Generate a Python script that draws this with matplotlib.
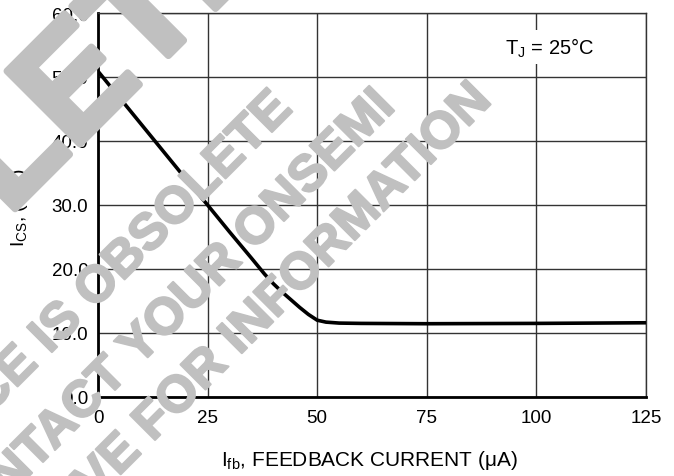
import numpy as np
import matplotlib
matplotlib.use("Agg")
import matplotlib.pyplot as plt
import matplotlib.patheffects as pe

plt.rcParams['font.family'] = ['Liberation Sans', 'DejaVu Sans']
plt.rcParams['mathtext.fontset'] = 'custom'
plt.rcParams['mathtext.rm'] = 'Liberation Sans'
plt.rcParams['mathtext.it'] = 'Liberation Sans:italic'

# curve (feedback current in uA, sense current in mA)
i_fb = [0, 5, 10, 15, 20, 25, 30, 35, 38, 40, 42, 44, 46, 48, 50, 52, 55, 60, 75, 100, 125]
i_cs = [50.9, 46.7, 42.5, 38.3, 34.1, 30.0, 25.8, 21.7, 19.2, 17.7, 16.4, 15.2, 14.0, 12.9, 12.0, 11.7, 11.55, 11.5, 11.45, 11.5, 11.6]

x_ticks = [0, 25, 50, 75, 100, 125]
y_ticks = [0, 10, 20, 30, 40, 50, 60]
y_tick_labels = ["0.0", "10.0", "20.0", "30.0", "40.0", "50.0", "60.0"]

watermark_big = "OBSOLETE"
watermark_lines = ["DEVICE IS OBSOLETE", "CONTACT YOUR ONSEMI", "REPRESENTATIVE FOR INFORMATION"]

W, H = 674, 477
fig = plt.figure(figsize=(W / 100, H / 100), dpi=100)
ax = fig.add_axes([98 / W, 1 - 398 / H, (646 - 98) / W, (398 - 14) / H])

ax.plot(i_fb, i_cs, color='black', lw=2.6, solid_capstyle='butt', zorder=3)

ax.set_xlim(0, 125)
ax.set_ylim(0, 60)
ax.set_xticks(x_ticks)
ax.set_yticks(y_ticks)
ax.set_yticklabels(y_tick_labels)
ax.tick_params(length=0, labelsize=13.5, pad=7)
ax.tick_params(axis='x', pad=9)
ax.grid(True, color='#333333', lw=1.0)
ax.set_axisbelow(True)

for side in ['top', 'right']:
    ax.spines[side].set_linewidth(1.0)
    ax.spines[side].set_color('#333333')
for side in ['left', 'bottom']:
    ax.spines[side].set_linewidth(2.0)

ax.text(92.8, 54.7, r'T$_\mathrm{J}$ = 25°C', fontsize=14.5, va='center', ha='left',
        bbox=dict(facecolor='white', edgecolor='none', pad=4), zorder=4)

fig.text(370 / W, 1 - 466 / H, r'I$_\mathrm{fb}$, FEEDBACK CURRENT (μA)', fontsize=15,
         ha='center', va='baseline')
fig.text(20 / W, 1 - 208 / H, r'I$_\mathrm{CS}$, (mA)', fontsize=14, rotation=90,
         ha='center', va='center')

# watermark
wm = '#c0c0c0'
fig.text(279 / W, 1 + 54 / H, watermark_big, fontsize=108, fontweight='bold', color=wm,
         rotation=45, rotation_mode='anchor', ha='right', va='baseline', zorder=10,
         path_effects=[pe.withStroke(linewidth=5, foreground=wm)])
ends = [(293, 112), (396, 110), (492, 104)]
for txt, (ex, ey) in zip(watermark_lines, ends):
    fig.text(ex / W, 1 - ey / H, txt, fontsize=37, fontweight='bold', color=wm,
             rotation=45, rotation_mode='anchor', ha='right', va='baseline', zorder=10,
             path_effects=[pe.withStroke(linewidth=1.5, foreground=wm)])

fig.savefig('out.png', dpi=100)
